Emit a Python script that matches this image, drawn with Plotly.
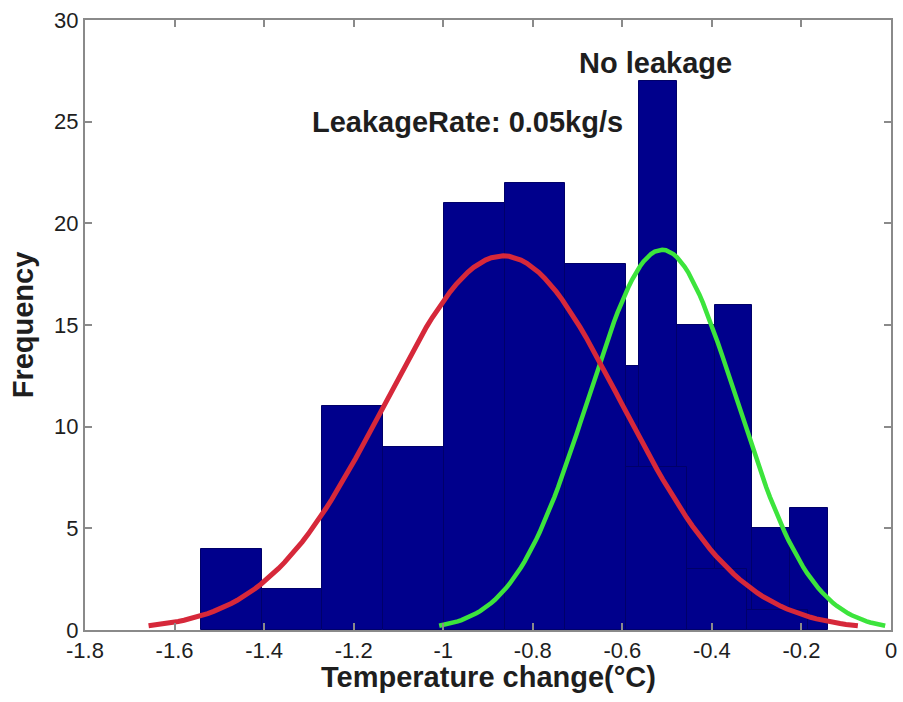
import numpy as np
import plotly.graph_objects as go

# Histogram of temperature change with leakage (0.05 kg/s): bin edges and counts
leak_edges_start = -1.541
leak_bin_width = 0.1356
leak_counts = [4, 2, 11, 9, 21, 22, 18, 8, 3, 1]

# Histogram of temperature change without leakage
noleak_edges_start = -0.987
noleak_bin_width = 0.0847
noleak_counts = [1, 2, 4, 6, 13, 27, 15, 16, 5, 6]

# Fitted normal curves (mean, std, peak height in counts)
leak_fit = {"mean": -0.866, "std": 0.264, "peak": 18.4}
noleak_fit = {"mean": -0.511, "std": 0.166, "peak": 18.7}

x_ticks = [-1.8, -1.6, -1.4, -1.2, -1.0, -0.8, -0.6, -0.4, -0.2, 0.0]
x_tick_text = ["-1.8", "-1.6", "-1.4", "-1.2", "-1", "-0.8", "-0.6", "-0.4", "-0.2", "0"]
y_ticks = [0, 5, 10, 15, 20, 25, 30]

BAR_COLOR = "rgb(0,0,140)"
EDGE_COLOR = "rgb(0,0,105)"
RED = "rgb(214,40,58)"
GREEN = "rgb(60,228,60)"
TEXT = "#1e1e1e"
FONT = "Liberation Sans, Arial, sans-serif"


def bin_centers(start, width, counts):
    return [start + width * (i + 0.5) for i in range(len(counts))]


def fit_curve(fit):
    # histfit-style curve spanning mean +/- 3 std
    mu, sd, peak = fit["mean"], fit["std"], fit["peak"]
    x = np.linspace(mu - 3 * sd, mu + 3 * sd, 121)
    y = peak * np.exp(-0.5 * ((x - mu) / sd) ** 2)
    return x, y


fig = go.Figure()

fig.add_trace(go.Bar(
    x=bin_centers(noleak_edges_start, noleak_bin_width, noleak_counts),
    y=noleak_counts,
    width=noleak_bin_width,
    marker=dict(color=BAR_COLOR, line=dict(color=EDGE_COLOR, width=1)),
    showlegend=False,
))
fig.add_trace(go.Bar(
    x=bin_centers(leak_edges_start, leak_bin_width, leak_counts),
    y=leak_counts,
    width=leak_bin_width,
    marker=dict(color=BAR_COLOR, line=dict(color=EDGE_COLOR, width=1)),
    showlegend=False,
))

gx, gy = fit_curve(noleak_fit)
fig.add_trace(go.Scatter(x=gx, y=gy, mode="lines",
                         line=dict(color=GREEN, width=4.5), showlegend=False))
rx, ry = fit_curve(leak_fit)
fig.add_trace(go.Scatter(x=rx, y=ry, mode="lines",
                         line=dict(color=RED, width=5), showlegend=False))

fig.add_annotation(x=-0.525, y=27.9, xref="x", yref="y", text="<b>No leakage</b>",
                   showarrow=False, xanchor="center", yanchor="middle",
                   font=dict(family=FONT, size=29, color=TEXT))
fig.add_annotation(x=-1.297, y=25.0, xref="x", yref="y",
                   text="<b>LeakageRate: 0.05kg/s</b>",
                   showarrow=False, xanchor="left", yanchor="middle",
                   font=dict(family=FONT, size=29, color=TEXT))

# x-axis title placed just under the tick labels
fig.add_annotation(x=0.5, y=0, xref="paper", yref="paper", yshift=-47,
                   text="<b>Temperature change(°C)</b>",
                   showarrow=False, xanchor="center", yanchor="middle",
                   font=dict(family=FONT, size=29, color=TEXT))

axis_common = dict(
    showline=True, linecolor="#8a8a8a", linewidth=2, mirror="ticks",
    ticks="inside", ticklen=7, tickcolor="#8a8a8a", tickwidth=1.5,
    showgrid=False, zeroline=False,
    tickfont=dict(family=FONT, size=22, color=TEXT),
)

fig.update_layout(
    width=903, height=702,
    margin=dict(l=85, r=6, t=20, b=72),
    paper_bgcolor="white", plot_bgcolor="white",
    barmode="overlay", bargap=0,
    xaxis=dict(range=[-1.8, 0], tickvals=x_ticks, ticktext=x_tick_text,
               **axis_common),
    yaxis=dict(range=[0, 30], tickvals=y_ticks,
               title=dict(text="<b>Frequency</b>", standoff=12,
                          font=dict(family=FONT, size=29, color=TEXT)),
               **axis_common),
)

fig.write_html("out.html")
